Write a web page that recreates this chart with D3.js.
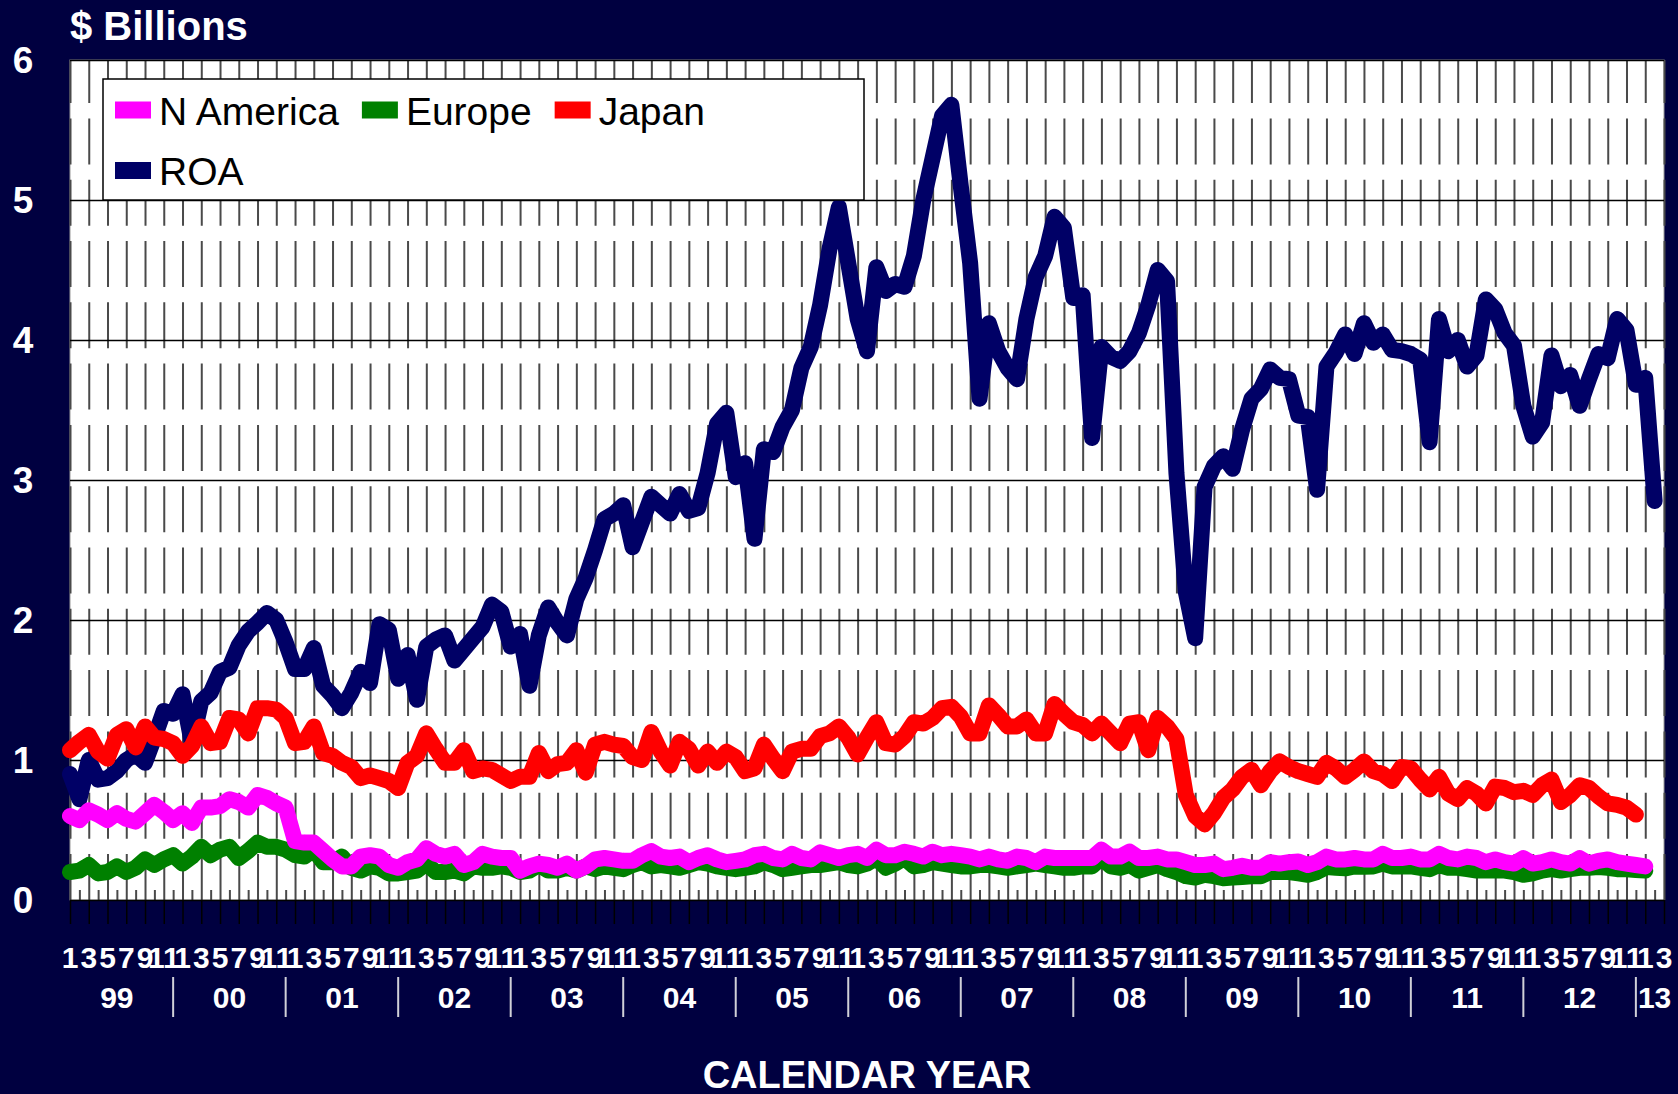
<!DOCTYPE html>
<html>
<head>
<meta charset="utf-8">
<script src="https://cdn.jsdelivr.net/npm/d3@7"></script>
<style>
  html, body { margin: 0; padding: 0; background: #000040; }
  svg { display: block; }
  text { font-family: "Liberation Sans", Arial, Helvetica, sans-serif; }
</style>
</head>
<body>
<div id="chart"></div>
<script>
// Monthly values, $ billions, Jan 1999 onwards
const years = ["99", "00", "01", "02", "03", "04", "05", "06", "07", "08", "09", "10", "11", "12", "13"];
const monthLabels = ["1", "3", "5", "7", "9", "11"];
const lastYearMonths = 3;
const yTicks = [0, 1, 2, 3, 4, 5, 6];

const seriesNames = ["N America", "Europe", "Japan", "ROA"];
const seriesColors = ["#ff00ff", "#008000", "#ff0000", "#000066"];

const nAmerica = [
  0.60, 0.57, 0.64, 0.61, 0.57, 0.62, 0.58, 0.56, 0.62, 0.68, 0.63, 0.57,
  0.62, 0.55, 0.66, 0.66, 0.67, 0.72, 0.70, 0.66, 0.75, 0.73, 0.69, 0.66,
  0.42, 0.41, 0.41, 0.35, 0.29, 0.24, 0.24, 0.31, 0.32, 0.31, 0.25, 0.23,
  0.27, 0.29, 0.37, 0.33, 0.31, 0.33, 0.25, 0.27, 0.33, 0.31, 0.30, 0.30,
  0.21, 0.24, 0.26, 0.25, 0.23, 0.26, 0.21, 0.24, 0.29, 0.30, 0.29, 0.28,
  0.28, 0.32, 0.35, 0.31, 0.30, 0.31, 0.27, 0.30, 0.32, 0.29, 0.27, 0.28,
  0.29, 0.32, 0.33, 0.30, 0.29, 0.33, 0.30, 0.29, 0.34, 0.32, 0.30, 0.32,
  0.33, 0.30, 0.36, 0.32, 0.32, 0.345, 0.33, 0.31, 0.345, 0.32, 0.33, 0.32,
  0.31, 0.29, 0.31, 0.29, 0.28, 0.31, 0.30, 0.27, 0.31, 0.30, 0.30, 0.30,
  0.30, 0.30, 0.36, 0.31, 0.31, 0.345, 0.30, 0.30, 0.31, 0.29, 0.29, 0.27,
  0.25, 0.25, 0.26, 0.22, 0.23, 0.245, 0.23, 0.23, 0.27, 0.26, 0.27, 0.275,
  0.25, 0.27, 0.31, 0.29, 0.29, 0.30, 0.29, 0.29, 0.33, 0.30, 0.30, 0.31,
  0.29, 0.29, 0.33, 0.30, 0.29, 0.31, 0.30, 0.27, 0.29, 0.27, 0.26, 0.30,
  0.26, 0.27, 0.29, 0.27, 0.26, 0.30, 0.26, 0.28, 0.29, 0.27, 0.26, 0.25,
  0.24
];

const europe = [
  0.20, 0.21, 0.25, 0.19, 0.20, 0.24, 0.20, 0.23, 0.29, 0.25, 0.29, 0.32,
  0.26, 0.31, 0.38, 0.32, 0.36, 0.38, 0.30, 0.35, 0.41, 0.38, 0.38, 0.36,
  0.32, 0.31, 0.36, 0.27, 0.27, 0.31, 0.23, 0.21, 0.24, 0.23, 0.19, 0.19,
  0.20, 0.21, 0.26, 0.20, 0.20, 0.21, 0.19, 0.24, 0.23, 0.23, 0.24, 0.23,
  0.20, 0.21, 0.25, 0.21, 0.21, 0.23, 0.21, 0.24, 0.22, 0.24, 0.23, 0.22,
  0.25, 0.27, 0.24, 0.25, 0.24, 0.23, 0.25, 0.27, 0.26, 0.24, 0.23, 0.22,
  0.23, 0.24, 0.27, 0.25, 0.22, 0.23, 0.24, 0.25, 0.25, 0.26, 0.27, 0.25,
  0.24, 0.26, 0.30, 0.23, 0.26, 0.30, 0.24, 0.25, 0.27, 0.26, 0.25, 0.24,
  0.24, 0.25, 0.25, 0.24, 0.23, 0.24, 0.25, 0.26, 0.25, 0.24, 0.23, 0.23,
  0.24, 0.24, 0.30, 0.24, 0.23, 0.25, 0.21, 0.23, 0.25, 0.22, 0.20, 0.17,
  0.16, 0.18, 0.17, 0.155, 0.16, 0.165, 0.17, 0.17, 0.20, 0.20, 0.20, 0.19,
  0.18, 0.20, 0.235, 0.23, 0.226, 0.24, 0.238, 0.24, 0.26, 0.24, 0.24, 0.24,
  0.23, 0.22, 0.25, 0.23, 0.23, 0.22, 0.21, 0.21, 0.21, 0.21, 0.20, 0.18,
  0.19, 0.21, 0.22, 0.21, 0.22, 0.23, 0.23, 0.235, 0.23, 0.22, 0.22, 0.215,
  0.21
];

const japan = [
  1.07, 1.13, 1.18, 1.06, 1.01, 1.18, 1.22, 1.09, 1.24, 1.16, 1.15, 1.12,
  1.03, 1.10, 1.24, 1.12, 1.13, 1.30, 1.29, 1.19, 1.37, 1.37, 1.36, 1.30,
  1.12, 1.13, 1.24, 1.05, 1.03, 0.98, 0.95, 0.87, 0.89, 0.87, 0.85, 0.80,
  0.98, 1.03, 1.19, 1.08, 0.98, 0.98, 1.07, 0.92, 0.94, 0.93, 0.89, 0.85,
  0.88, 0.88, 1.05, 0.92, 0.97, 0.98, 1.07, 0.91, 1.11, 1.13, 1.11, 1.10,
  1.02, 1.00, 1.20, 1.06, 0.96, 1.13, 1.08, 0.96, 1.06, 0.98, 1.06, 1.02,
  0.92, 0.94, 1.11, 1.01, 0.92, 1.06, 1.08, 1.08, 1.17, 1.19, 1.24, 1.16,
  1.04, 1.16, 1.27, 1.12, 1.11, 1.17, 1.27, 1.26, 1.30, 1.37, 1.38, 1.31,
  1.19, 1.19, 1.39, 1.32, 1.24, 1.24, 1.29, 1.19, 1.19, 1.40, 1.33, 1.27,
  1.25, 1.19, 1.26, 1.19, 1.12, 1.26, 1.27, 1.07, 1.30, 1.24, 1.15, 0.75,
  0.60, 0.54, 0.62, 0.73, 0.79, 0.88, 0.93, 0.82, 0.92, 0.99, 0.95, 0.92,
  0.90, 0.88, 0.98, 0.94, 0.88, 0.93, 0.99, 0.92, 0.90, 0.85, 0.95, 0.94,
  0.86, 0.79, 0.88, 0.76, 0.72, 0.80, 0.76, 0.69, 0.81, 0.80, 0.77, 0.78,
  0.75, 0.82, 0.86, 0.70, 0.75, 0.82, 0.80, 0.74, 0.69, 0.68, 0.66, 0.61
];

const roa = [
  0.90, 0.72, 1.00, 0.86, 0.87, 0.92, 1.00, 1.04, 0.98, 1.16, 1.35, 1.33,
  1.47, 1.12, 1.42, 1.48, 1.63, 1.66, 1.82, 1.92, 1.98, 2.05, 2.00, 1.84,
  1.65, 1.65, 1.80, 1.53, 1.46, 1.37, 1.48, 1.63, 1.55, 1.97, 1.93, 1.58,
  1.75, 1.43, 1.81, 1.86, 1.89, 1.71, 1.79, 1.87, 1.95, 2.11, 2.06, 1.81,
  1.90, 1.53, 1.89, 2.09, 1.98, 1.89, 2.15, 2.30, 2.50, 2.72, 2.76, 2.82,
  2.52, 2.70, 2.88, 2.82, 2.76, 2.90, 2.78, 2.80, 3.05, 3.40, 3.48, 3.02,
  3.12, 2.58, 3.22, 3.20, 3.38, 3.50, 3.80, 3.95, 4.25, 4.65, 4.95, 4.55,
  4.15, 3.92, 4.52, 4.35, 4.40, 4.38, 4.60, 5.00, 5.30, 5.60, 5.68, 5.10,
  4.55, 3.58, 4.12, 3.92, 3.80, 3.72, 4.15, 4.45, 4.60, 4.88, 4.80, 4.30,
  4.32, 3.30, 3.95, 3.88, 3.85, 3.92, 4.05, 4.25, 4.50, 4.42, 3.05, 2.20,
  1.87, 2.95, 3.10, 3.17, 3.08, 3.36, 3.58, 3.65, 3.79, 3.73, 3.72, 3.46,
  3.45, 2.93, 3.81, 3.91, 4.04, 3.90, 4.12, 3.98, 4.04, 3.93, 3.92, 3.90,
  3.86, 3.27, 4.15, 3.92, 4.00, 3.81, 3.89, 4.29, 4.22, 4.05, 3.96, 3.53,
  3.31, 3.41, 3.89, 3.67, 3.75, 3.53, 3.72, 3.90, 3.87, 4.15, 4.07, 3.68,
  3.73, 2.85
];

const seriesValues = [nAmerica, europe, japan, roa];

// page and plot box
const W = 1678, H = 1094;
const plot = {left: 70, right: 1664, top: 60, bottom: 900};

// month categories: 12 per year, the last year only partly
const months = [];
years.forEach((yr, yi) => {
  const n = yi === years.length - 1 ? lastYearMonths : 12;
  for (let m = 1; m <= n; m++) months.push({key: yr + "-" + m, year: yr, month: m, idx: months.length});
});

const x = d3.scalePoint().domain(months.map(d => d.key)).range([plot.left, plot.right]);
const y = d3.scaleLinear().domain([0, 6]).range([plot.bottom, plot.top]);

const svg = d3.select("#chart").append("svg")
  .attr("width", W)
  .attr("height", H);

svg.append("rect").attr("width", W).attr("height", H).attr("fill", "#000040");

// white plot area
svg.append("rect")
  .attr("x", plot.left).attr("y", plot.top)
  .attr("width", plot.right - plot.left).attr("height", plot.bottom - plot.top)
  .attr("fill", "#ffffff")
  .attr("stroke", "#9a9a9a")
  .attr("stroke-width", 1);

const majorKeys = months.filter(d => d.idx % 2 === 0).map(d => d.key);
const minorKeys = months.filter(d => d.idx % 2 === 1).map(d => d.key);

// dashed vertical lines every second month
const vGrid = svg.append("g")
  .attr("transform", `translate(0,${plot.bottom})`)
  .call(d3.axisBottom(x).tickValues(majorKeys).tickSize(-(plot.bottom - plot.top)).tickFormat(""));
vGrid.select(".domain").remove();
vGrid.selectAll("line")
  .attr("stroke", "#4a4a4a")
  .attr("stroke-width", 2)
  .attr("stroke-dasharray", "46,15.3");

// minor ticks inside the plot
const minor = svg.append("g")
  .attr("transform", `translate(0,${plot.bottom})`)
  .call(d3.axisBottom(x).tickValues(minorKeys).tickSize(-10).tickFormat(""));
minor.select(".domain").remove();
minor.selectAll("line").attr("stroke", "#4a4a4a").attr("stroke-width", 2);

// major ticks below the axis
const major = svg.append("g")
  .attr("transform", `translate(0,${plot.bottom})`)
  .call(d3.axisBottom(x).tickValues(majorKeys).tickSize(24).tickFormat(""));
major.select(".domain").remove();
major.selectAll("line").attr("stroke", "#000000").attr("stroke-width", 1.5);

// horizontal gridlines
const hGrid = svg.append("g")
  .attr("transform", `translate(${plot.left},0)`)
  .call(d3.axisLeft(y).tickValues(yTicks).tickSize(-(plot.right - plot.left)).tickFormat(""));
hGrid.select(".domain").remove();
hGrid.selectAll("line").attr("stroke", "#000000").attr("stroke-width", 1.4);

// y labels
svg.append("g").selectAll("text")
  .data(yTicks)
  .enter()
  .append("text")
  .attr("x", 23)
  .attr("y", d => y(d))
  .attr("dy", "0.36em")
  .attr("text-anchor", "middle")
  .attr("fill", "#ffffff")
  .attr("font-size", 37)
  .attr("font-weight", "bold")
  .text(d => d);

// series lines, drawn last one first so N America sits on top
const line = d3.line()
  .x((d, i) => x(months[i].key))
  .y(d => y(d));

const order = [3, 2, 1, 0];
svg.append("g").selectAll("path")
  .data(order)
  .enter()
  .append("path")
  .attr("d", k => line(seriesValues[k]))
  .attr("fill", "none")
  .attr("stroke", k => seriesColors[k])
  .attr("stroke-width", 16)
  .attr("stroke-linejoin", "round")
  .attr("stroke-linecap", "round");

// month labels (odd months)
svg.append("g").selectAll("text")
  .data(months.filter(d => d.idx % 2 === 0))
  .enter()
  .append("text")
  .attr("x", d => x(d.key))
  .attr("y", 968)
  .attr("text-anchor", "middle")
  .attr("fill", "#ffffff")
  .attr("font-size", 30)
  .attr("font-weight", "bold")
  .text(d => monthLabels[(d.month - 1) / 2]);

// year groups: separators at December, labels centred in each group
const step = x.step();
const yearGroups = years.map((yr, yi) => {
  const first = yi * 12;
  const n = yi === years.length - 1 ? lastYearMonths : 12;
  return {year: yr, start: first - 1, end: first + n - 1 + (yi === years.length - 1 ? 1 : 0)};
});

svg.append("g").selectAll("line")
  .data(yearGroups.slice(1))
  .enter()
  .append("line")
  .attr("x1", d => plot.left + d.start * step)
  .attr("x2", d => plot.left + d.start * step)
  .attr("y1", 977)
  .attr("y2", 1017)
  .attr("stroke", "#d0d0d8")
  .attr("stroke-width", 2);

svg.append("g").selectAll("text")
  .data(yearGroups)
  .enter()
  .append("text")
  .attr("x", d => plot.left + (d.start + d.end) / 2 * step)
  .attr("y", 1008)
  .attr("text-anchor", "middle")
  .attr("fill", "#ffffff")
  .attr("font-size", 30)
  .attr("font-weight", "bold")
  .text(d => d.year);

// axis titles
svg.append("text")
  .attr("x", (plot.left + plot.right) / 2)
  .attr("y", 1088)
  .attr("text-anchor", "middle")
  .attr("fill", "#ffffff")
  .attr("font-size", 38)
  .attr("font-weight", "bold")
  .text("CALENDAR YEAR");

svg.append("text")
  .attr("x", 70)
  .attr("y", 40)
  .attr("fill", "#ffffff")
  .attr("font-size", 40)
  .attr("font-weight", "bold")
  .text("$ Billions");

// legend box
const legend = svg.append("g");
legend.append("rect")
  .attr("x", 103).attr("y", 79)
  .attr("width", 761).attr("height", 121)
  .attr("fill", "#ffffff")
  .attr("stroke", "#000000")
  .attr("stroke-width", 1.5);

const rows = [[0, 1, 2], [3]];
const rowY = [110, 170.5];
rows.forEach((row, r) => {
  let lx = 115;
  row.forEach(k => {
    legend.append("rect")
      .attr("x", lx).attr("y", rowY[r] - 8.5)
      .attr("width", 36).attr("height", 17)
      .attr("fill", seriesColors[k]);
    const t = legend.append("text")
      .attr("x", lx + 44)
      .attr("y", rowY[r] + 14.5)
      .attr("fill", "#000000")
      .attr("font-size", 39)
      .text(seriesNames[k]);
    lx += 44 + t.node().getComputedTextLength() + 23;
  });
});
</script>
</body>
</html>
